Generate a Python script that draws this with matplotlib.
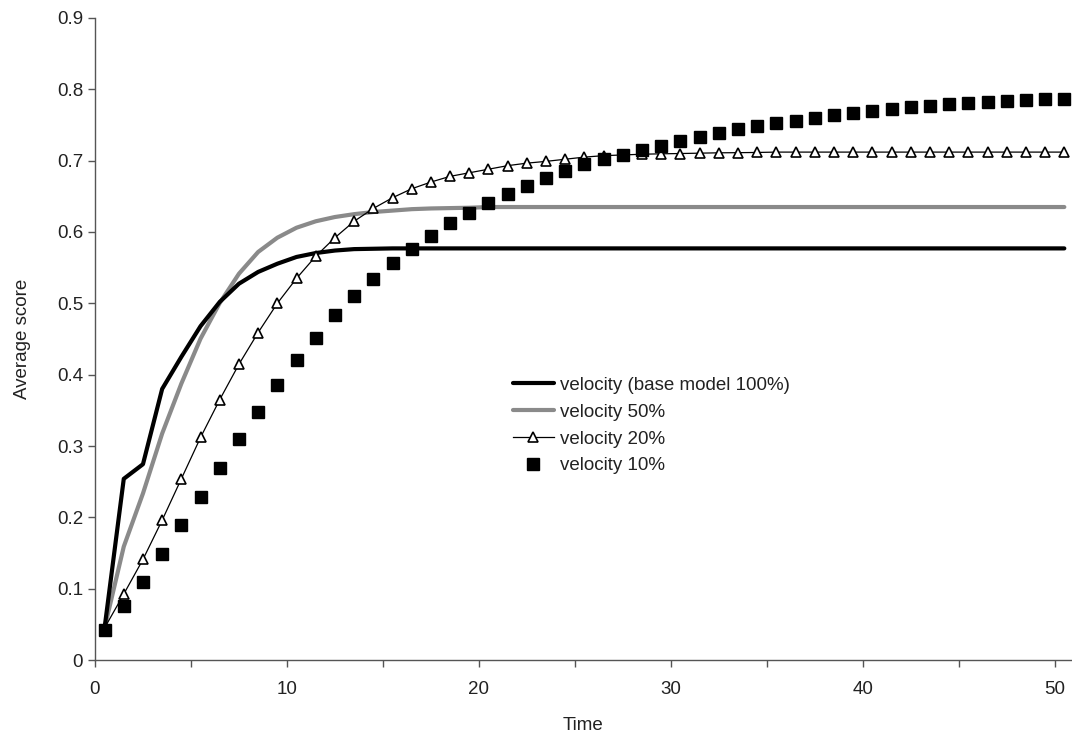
import matplotlib
matplotlib.use("Agg")
import matplotlib.pyplot as plt
import numpy as np

plt.rcParams['font.family'] = ['Liberation Sans', 'DejaVu Sans']

time = [0.5 + i for i in range(51)]

base_100 = [0.045, 0.254, 0.2745, 0.380, 0.425, 0.468, 0.502, 0.5275, 0.544, 0.5555,
            0.565, 0.5705, 0.574, 0.576, 0.5765, 0.577] + [0.577] * 35

vel_50 = [0.045, 0.159, 0.2335, 0.3175, 0.3875, 0.4505, 0.5005, 0.5415, 0.572, 0.592,
          0.606, 0.615, 0.621, 0.625, 0.628, 0.630, 0.632, 0.633, 0.6335, 0.634] + [0.635] * 31

vel_20 = [0.045, 0.0924, 0.141, 0.196, 0.254, 0.312, 0.365, 0.4146, 0.459, 0.500,
          0.535, 0.566, 0.592, 0.615, 0.633, 0.648, 0.6606, 0.670, 0.678, 0.683,
          0.688, 0.693, 0.6965, 0.699, 0.702, 0.705, 0.707, 0.708, 0.709, 0.7096,
          0.710, 0.7105, 0.711, 0.7112, 0.7115] + [0.712] * 16

vel_10 = [0.042, 0.0756, 0.110, 0.148, 0.189, 0.228, 0.269, 0.310, 0.348, 0.385,
          0.421, 0.452, 0.483, 0.510, 0.534, 0.556, 0.576, 0.594, 0.612, 0.627,
          0.640, 0.653, 0.665, 0.676, 0.685, 0.695, 0.702, 0.708, 0.715, 0.721,
          0.727, 0.733, 0.739, 0.744, 0.748, 0.7525, 0.756, 0.760, 0.764, 0.767,
          0.770, 0.773, 0.775, 0.777, 0.779, 0.781, 0.7825, 0.784, 0.785, 0.786, 0.787]

labels = ["velocity (base model 100%)", "velocity 50%", "velocity 20%", "velocity 10%"]
y_ticks = [0, 0.1, 0.2, 0.3, 0.4, 0.5, 0.6, 0.7, 0.8, 0.9]
y_tick_labels = ["0", "0.1", "0.2", "0.3", "0.4", "0.5", "0.6", "0.7", "0.8", "0.9"]
x_ticks = [0, 10, 20, 30, 40, 50]

FS = 13.5

fig = plt.figure(figsize=(10.72, 7.34), dpi=100)
ax = fig.add_axes([0.0886, 0.1008, 0.9114, 0.8747])

ax.plot(time, base_100, color='black', lw=3.0, label=labels[0], solid_capstyle='round', zorder=3)
ax.plot(time, vel_50, color='#8a8a8a', lw=3.0, label=labels[1], solid_capstyle='round', zorder=2)
ax.plot(time, vel_20, color='black', lw=0.9, marker='^', markersize=6.5,
        markerfacecolor='white', markeredgecolor='black', markeredgewidth=1.2,
        label=labels[2], zorder=4)
ax.plot(time, vel_10, color='black', lw=0, marker='s', markersize=8,
        markerfacecolor='black', markeredgecolor='black', label=labels[3], zorder=5)

ax.set_xlim(0, 50.9)
ax.set_ylim(0, 0.9)
ax.set_yticks(y_ticks)
ax.set_yticklabels(y_tick_labels)
ax.set_xticks(x_ticks)
ax.set_xticks([5, 15, 25, 35, 45], minor=True)

for s in ['top', 'right']:
    ax.spines[s].set_visible(False)
for s in ['left', 'bottom']:
    ax.spines[s].set_color('#555555')
    ax.spines[s].set_linewidth(1.0)

ax.tick_params(axis='both', which='both', direction='out', length=5, width=1.0,
               color='#555555', labelsize=FS, labelcolor='#222222')
ax.tick_params(axis='x', which='major', pad=10)

ax.set_xlabel("Time", fontsize=FS, color='#222222', labelpad=14)
ax.set_ylabel("Average score", fontsize=FS, color='#222222', labelpad=19)

leg = ax.legend(loc='upper left', bbox_to_anchor=(0.4695, 0.4995), bbox_transform=fig.transFigure,
                frameon=False, fontsize=FS, handlelength=2.2, handletextpad=0.3,
                labelspacing=0.52, borderpad=0)
for t in leg.get_texts():
    t.set_color('#222222')

fig.savefig("out.png", dpi=100)
